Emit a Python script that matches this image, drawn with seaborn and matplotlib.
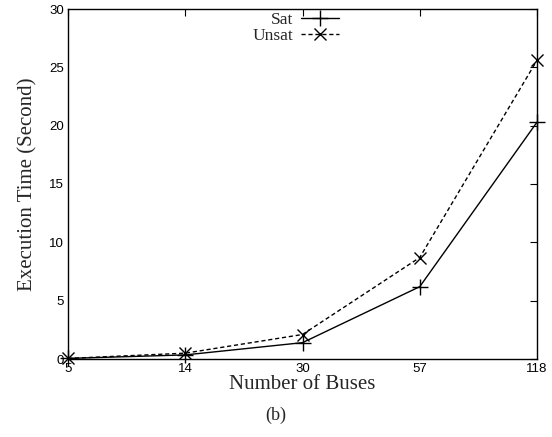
import matplotlib
matplotlib.use("Agg")
import matplotlib.pyplot as plt
import seaborn as sns
import pandas as pd

buses = ["5", "14", "30", "57", "118"]
sat_times = [0.05, 0.35, 1.4, 6.2, 20.3]
unsat_times = [0.05, 0.5, 2.1, 8.7, 25.6]

sns.set_theme(style="white")
plt.rcParams["font.family"] = ["Liberation Sans", "DejaVu Sans"]

df = pd.DataFrame({
    "pos": list(range(len(buses))) * 2,
    "time": sat_times + unsat_times,
    "series": ["Sat"] * len(buses) + ["Unsat"] * len(buses),
})

fig = plt.figure(figsize=(5.52, 4.37), dpi=100)
ax = fig.add_axes([68 / 552, 1 - 359 / 437, (537 - 68) / 552, (359 - 9) / 437])

sns.lineplot(data=df[df.series == "Sat"], x="pos", y="time", ax=ax,
             color="black", linewidth=1.0, marker="+", markersize=11,
             markeredgewidth=1.0, markeredgecolor="black", clip_on=False,
             label="Sat")
sns.lineplot(data=df[df.series == "Unsat"], x="pos", y="time", ax=ax,
             color="black", linewidth=1.0, linestyle=(0, (3, 2)), marker="x",
             markersize=9, markeredgewidth=1.0, markeredgecolor="black",
             clip_on=False, label="Unsat")

ax.set_xlim(0, len(buses) - 1)
ax.set_ylim(0, 30)
ax.set_xticks(range(len(buses)))
ax.set_xticklabels(buses)
ax.set_yticks([0, 5, 10, 15, 20, 25, 30])
ax.tick_params(direction="in", length=5, width=0.8, top=True, right=True,
               labelsize=9.5, pad=3, colors="black")

for s in ax.spines.values():
    s.set_color("black")
    s.set_linewidth(1.0)

serif = ["Liberation Serif", "DejaVu Serif"]
ax.set_xlabel("Number of Buses", fontsize=15, family=serif, labelpad=0)
ax.set_ylabel("Execution Time (Second)", fontsize=15, family=serif, labelpad=8)

leg = ax.legend(loc="upper center", bbox_to_anchor=(0.485, 1.022), frameon=False,
                markerfirst=False, handlelength=2.2, handletextpad=0.45,
                labelspacing=0.0, borderaxespad=0.2,
                prop={"family": serif, "size": 12.5})
for t in leg.get_texts():
    t.set_ha("right")

fig.text(0.5, 1 - 415 / 437, "(b)", ha="center", va="center",
         fontsize=13, family=serif)

fig.savefig("out.png", dpi=100)
